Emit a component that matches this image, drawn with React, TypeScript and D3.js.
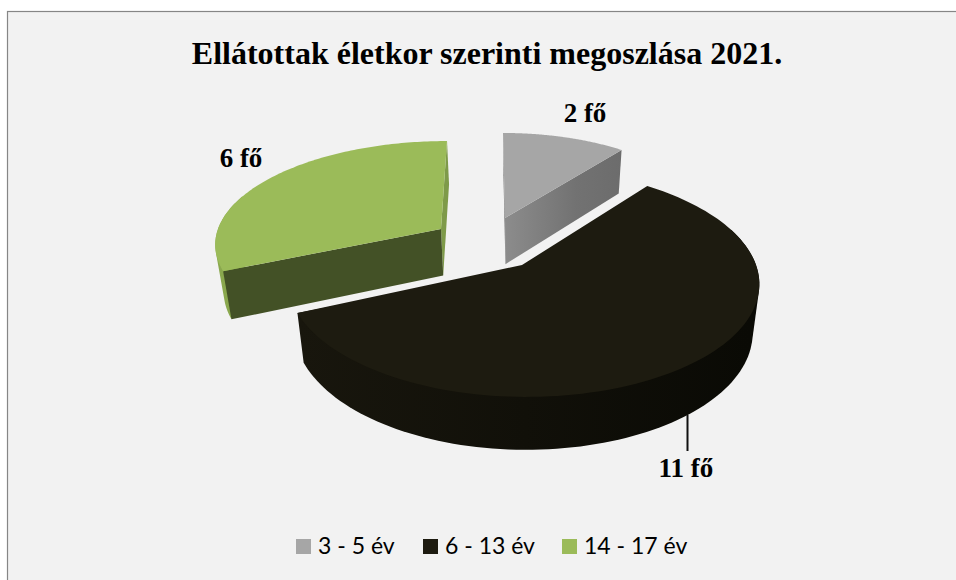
import React from "react";
import * as d3 from "d3";

const title = "Ellátottak életkor szerinti megoszlása 2021.";
const categories = ["3 - 5 év", "6 - 13 év", "14 - 17 év"];
const values = [2, 11, 6];
const unit = "fő";
const topColors = ["#a6a6a6", "#1d1b10", "#9bbb59"];

// Perspective view of each exploded slice (centre on the lid, radii, foreshortening, shear)
const views = [
  { cx: 505, cy: 218, rxR: 203, rxL: 203, ry: 91, k: 0.07, skew: 2 },
  { cx: 522, cy: 265, rxR: 234, rxL: 232, ry: 112, k: 0.151, skew: 4 },
  { cx: 441, cy: 229, rxR: 223, rxL: 223, ry: 99.4, k: 0.13, skew: -6 },
];
const labelAnchors: [number, number][] = [[585, 122], [686, 477], [241, 167]];
const legendX = [296, 423, 562];

type P = [number, number];

function rimPoint(v: typeof views[number], a: number): P {
  const X = Math.sin(a);
  const Y = -Math.cos(a);
  const s = 1 / (1 - v.k * Y);
  return [v.cx + (X >= 0 ? v.rxR : v.rxL) * X * s + v.skew * Y, v.cy + v.ry * Y * s];
}
// The floor of the pie: same outline, pulled down and towards the vanishing axis
function floor([x, y]: P): P {
  return [520 + (x - 520) * 0.972, y + 38 + 0.0375 * y];
}

const line = d3.line<P>();

export default function App() {
  const arcs = d3.pie<number>().sort(null).startAngle(0).endAngle(2 * Math.PI)(values);
  const drawOrder = [2, 0, 1];
  const faceAFill = ["#6a6a6a", "none", "#435126"];
  const faceBFill = ["url(#faceGray)", "none", "#7e9a49"];
  const wallFill = ["#8e8e8e", "url(#wallDark)", "#8aa84e"];

  return (
    <svg width={956} height={580} style={{ position: "absolute", left: 0, top: 0 }}>
      <defs>
        <linearGradient id="wallDark" gradientUnits="userSpaceOnUse" x1={300} x2={750} y1={0} y2={0}>
          <stop offset="0" stopColor="#18160d" />
          <stop offset="1" stopColor="#0a0a05" />
        </linearGradient>
        <linearGradient id="faceGray" gradientUnits="userSpaceOnUse" x1={505} x2={623} y1={0} y2={0}>
          <stop offset="0" stopColor="#8c8c8c" />
          <stop offset="0.6" stopColor="#727272" />
          <stop offset="1" stopColor="#6c6c6c" />
        </linearGradient>
      </defs>
      <rect x={0} y={0} width={956} height={580} fill="#ffffff" />
      <rect x={7.5} y={11.5} width={960} height={580} fill="#f2f2f2" stroke="#868686" strokeWidth={1.2} />
      <text x={487} y={64} textAnchor="middle" fontFamily="'Liberation Serif'" fontWeight="bold" fontSize={32} fill="#000">
        {title}
      </text>

      {drawOrder.map((i) => {
        const v = views[i];
        const a = arcs[i];
        const angles = d3.range(0, 121).map((t) => a.startAngle + ((a.endAngle - a.startAngle) * t) / 120);
        const rim = angles.map((t) => rimPoint(v, t));
        const apex: P = [v.cx, v.cy];
        const first = rim[0];
        const last = rim[rim.length - 1];
        // outer wall: the silhouette swept from the near part of the rim down to the floor
        const near = angles.filter((t) => -Math.cos(t) >= -0.35).map((t) => rimPoint(v, t));
        const wall = d3.polygonHull([...near, ...near.map(floor)] as [number, number][]);
        const faceA = [apex, first, floor(first), floor(apex)];
        const faceB = [apex, last, floor(last), floor(apex)];
        const lid = [apex, ...rim];
        return (
          <g key={i}>
            {i !== 0 && wall && <path d={line(wall as P[]) + "Z"} fill={wallFill[i]} />}
            {i !== 1 && (
              <>
                <path d={line(faceB) + "Z"} fill={faceBFill[i]} />
                <path d={line(faceA) + "Z"} fill={faceAFill[i]} />
              </>
            )}
            <path d={line(lid) + "Z"} fill={topColors[i]} />
          </g>
        );
      })}

      <line x1={687.5} x2={687.5} y1={415} y2={451} stroke="#111" strokeWidth={2} />
      {values.map((val, i) => (
        <text
          key={i}
          x={labelAnchors[i][0]}
          y={labelAnchors[i][1]}
          textAnchor="middle"
          fontFamily="'Liberation Serif'"
          fontWeight="bold"
          fontSize={27}
          fill="#000"
        >
          {`${val} ${unit}`}
        </text>
      ))}

      {categories.map((c, i) => (
        <g key={c}>
          <rect x={legendX[i]} y={539} width={15} height={15} fill={topColors[i]} />
          <text x={legendX[i] + 22} y={554} fontFamily="Lato" fontSize={23} fill="#000">
            {c}
          </text>
        </g>
      ))}
    </svg>
  );
}
